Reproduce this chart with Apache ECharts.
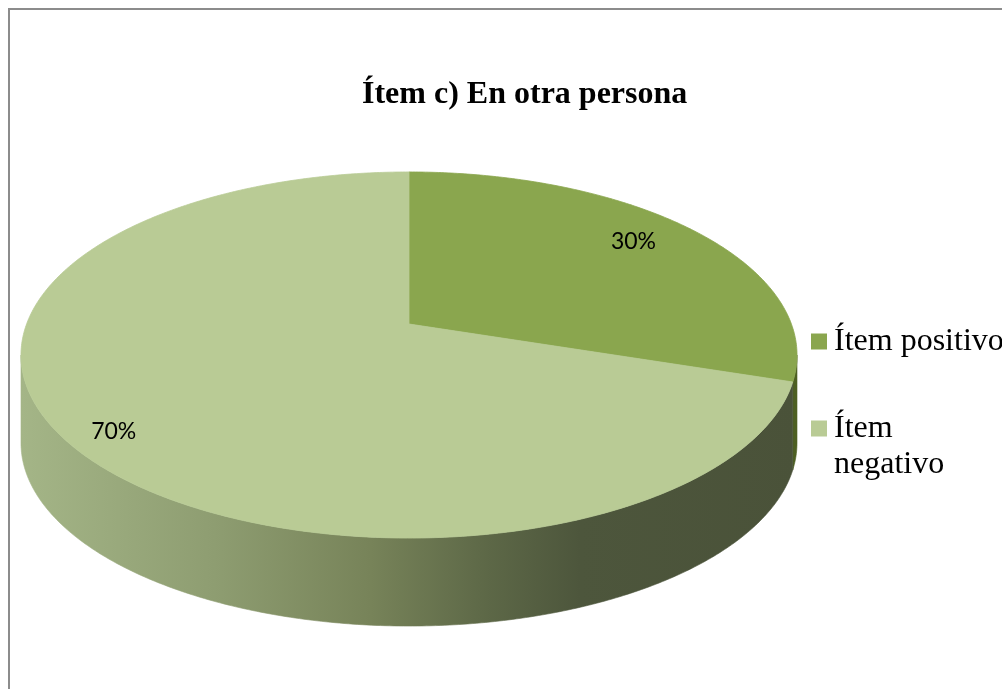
<!DOCTYPE html>
<html>
<head>
<meta charset="utf-8">
<script src="https://cdn.jsdelivr.net/npm/echarts@6/dist/echarts.min.js"></script>
<style>
  html, body { margin: 0; padding: 0; background: #fff; }
  #main { width: 1002px; height: 689px; }
</style>
</head>
<body>
<div id="main"></div>
<script>
var categories = ['Ítem positivo', 'Ítem negativo'];
var values = [30, 70];
var legendText = ['Ítem positivo', 'Ítem\nnegativo']; // wrapped like the original
var topColors = ['#8aa64e', '#b9cb95'];

// fake 3d pie: perspective-squashed disc plus a front wall
var cx = 409, cy = 324, rx = 382.4, ky = 122.9, persp = 0.1694, depth = 88;
var silL = Math.acos(-persp), silR = 2 * Math.PI - silL;

function proj(ang, r) {
  var u = r * Math.sin(ang), v = -r * Math.cos(ang);
  var d = 1 - persp * v;
  return [cx + rx * u / d, (ky * v + cy) / d];
}

function arc(a0, a1, r) {
  var pts = [];
  var n = Math.max(2, Math.ceil((a1 - a0) / 0.01));
  for (var j = 0; j <= n; j++) pts.push(proj(a0 + (a1 - a0) * j / n, r));
  return pts;
}

var sideGrad = [
  { type: 'linear', x: 21, y: 0, x2: 797, y2: 0, global: true,
    colorStops: [{ offset: 0, color: '#6f8a35' }, { offset: 1, color: '#4d5f22' }] },
  { type: 'linear', x: 21, y: 0, x2: 797, y2: 0, global: true,
    colorStops: [
      { offset: 0, color: '#a4b587' },
      { offset: 0.25, color: '#8e9d71' },
      { offset: 0.45, color: '#778359' },
      { offset: 0.6, color: '#5d6847' },
      { offset: 0.72, color: '#4d563c' },
      { offset: 1, color: '#4a5239' }
    ] }
];

function renderItem(params, api) {
  var i = params.dataIndex;
  var total = 0, start = 0;
  for (var j = 0; j < values.length; j++) {
    total += values[j];
    if (j < i) start += values[j];
  }
  var a0 = start / total * 2 * Math.PI;
  var a1 = (start + api.value(0)) / total * 2 * Math.PI;
  var kids = [];

  var s0 = Math.max(a0, silL), s1 = Math.min(a1, silR);
  if (s1 > s0) {
    var upper = arc(s0, s1, 1);
    var lower = upper.map(function (p) { return [p[0], p[1] + depth]; }).reverse();
    kids.push({
      type: 'polygon', z2: 1,
      shape: { points: upper.concat(lower) },
      style: { fill: sideGrad[i], stroke: sideGrad[i], lineWidth: 0.6 }
    });
  }

  var topPts = [[cx, cy]].concat(arc(a0, a1, 1));
  kids.push({
    type: 'polygon', z2: 10,
    shape: { points: topPts },
    style: { fill: topColors[i], stroke: topColors[i], lineWidth: 0.8 }
  });

  var mid = (a0 + a1) / 2;
  var lp = proj(mid, 0.85);
  kids.push({
    type: 'text', z2: 20,
    x: lp[0] + (i === 0 ? -18 : -8),
    y: lp[1] + (i === 1 ? 12 : 0) - 1,
    style: {
      text: Math.round(api.value(0) / total * 100) + '%',
      font: '23px Lato', fill: '#000', align: 'center', verticalAlign: 'middle'
    }
  });

  // legend entries
  var ly = 341.5 + i * 87;
  kids.push({
    type: 'rect', z2: 20,
    shape: { x: 811, y: ly - 8, width: 16, height: 16 },
    style: { fill: topColors[i] }
  });
  kids.push({
    type: 'text', z2: 20, x: 834, y: ly - 18,
    style: {
      text: legendText[i], font: '32px "Liberation Serif"', fill: '#000',
      lineHeight: 36, align: 'left', verticalAlign: 'top'
    }
  });

  return { type: 'group', children: kids };
}

var chart = echarts.init(document.getElementById('main'));
chart.setOption({
  animation: false,
  title: {
    text: 'Ítem c) En otra persona',
    left: 357, top: 74,
    textStyle: { fontFamily: 'Liberation Serif', fontWeight: 'bold', fontSize: 32, color: '#000' }
  },
  graphic: [{
    type: 'rect', z: -1,
    shape: { x: 9, y: 9, width: 1100, height: 800 },
    style: { fill: 'none', stroke: '#8c8c8c', lineWidth: 2 }
  }],
  series: [{
    type: 'custom',
    coordinateSystem: 'none',
    renderItem: renderItem,
    data: values.map(function (v, i) { return { name: categories[i], value: v }; })
  }]
});
</script>
</body>
</html>
